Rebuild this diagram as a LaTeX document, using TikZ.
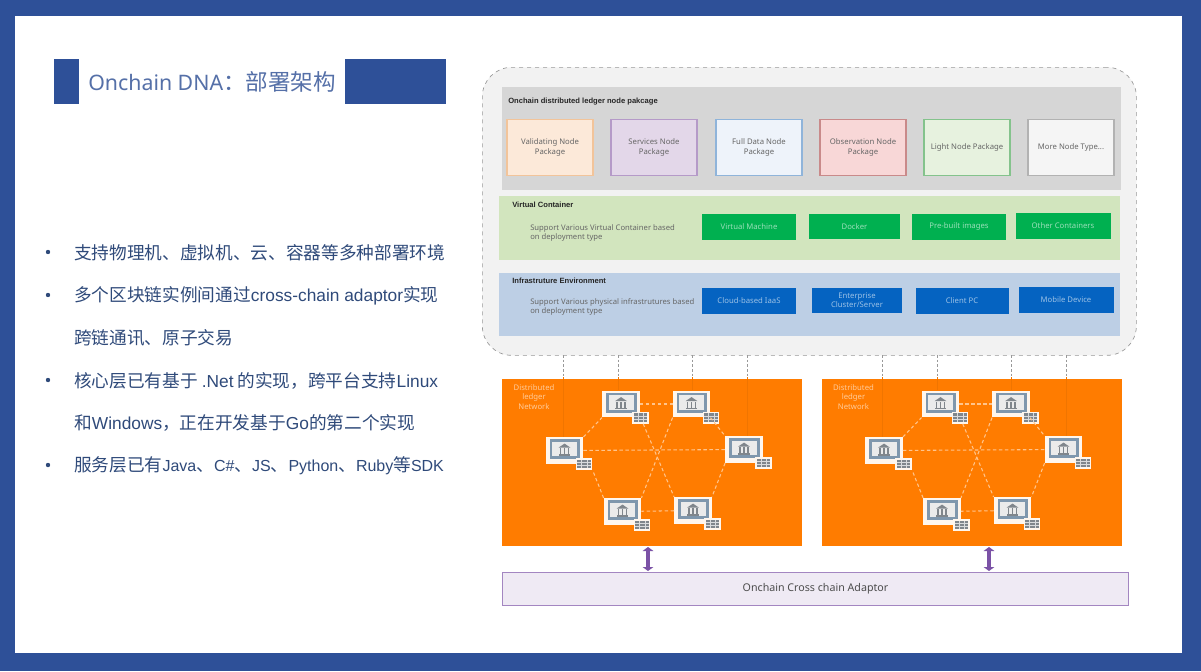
\documentclass[tikz,border=0pt]{standalone}
\usepackage{fontspec}
\setmainfont{Noto Sans}
\newfontfamily\cjkfont{Noto Sans CJK SC}
\newfontfamily\latinfont{Liberation Sans}
\usetikzlibrary{arrows.meta}

\definecolor{frameblue}{HTML}{2E5098}
\definecolor{titleblue}{HTML}{5570A8}
\definecolor{bodyblue}{HTML}{2F4A7A}
\definecolor{netorange}{HTML}{FF7C00}
\definecolor{ctgreen}{HTML}{00B050}
\definecolor{infblue}{HTML}{0563C1}
\definecolor{arrowpurple}{HTML}{7B52A6}
\definecolor{bandgreen}{HTML}{D2E5BE}
\definecolor{bandblue}{HTML}{BDCFE5}
\definecolor{screenedge}{HTML}{7F97AD}
\definecolor{iconcolor}{HTML}{80868C}
\definecolor{validatingfill}{HTML}{FCE9D9}
\definecolor{validatingedge}{HTML}{F2C49A}
\definecolor{servicesfill}{HTML}{E3D7E9}
\definecolor{servicesedge}{HTML}{B59AC8}
\definecolor{fulldatafill}{HTML}{EEF3FA}
\definecolor{fulldataedge}{HTML}{8FB4DA}
\definecolor{observationfill}{HTML}{F8D7D7}
\definecolor{observationedge}{HTML}{C98A8A}
\definecolor{lightfill}{HTML}{E7F2DF}
\definecolor{lightedge}{HTML}{84C38C}

\tikzset{
    heading/.style={anchor=west, inner sep=0pt, font=\latinfont\fontsize{5.7}{7}\selectfont\bfseries, text=black!85},
    remark/.style={anchor=west, inner sep=0pt, align=left, font=\fontsize{5.75}{7.4}\selectfont, text=black!60},
    package/.style={draw=#1edge, fill=#1fill, line width=.8pt, minimum width=64.5pt, minimum height=41.5pt, inner sep=0pt, align=center, font=\fontsize{5.8}{7}\selectfont, text=black!60},
    tile/.style={fill=#1, draw=none, minimum width=70.5pt, minimum height=19.5pt, inner sep=0pt, align=center, font=\fontsize{5.8}{6.8}\selectfont, text=white!60!#1},
    bullet/.style={anchor=west, inner sep=0pt, text=bodyblue, font=\cjkfont\fontsize{13.25}{16}\selectfont},
    laptop/.style={fill=white!93!orange, draw=none, minimum width=28pt, minimum height=20pt, inner sep=0pt},
    link/.style={draw=white!55!netorange, line width=.8pt, dash pattern=on 2.5pt off 2pt},
    drop/.style={draw=black!40, line width=.4pt, dash pattern=on 2pt off 1.5pt},
    faint/.style={draw=netorange!94!black, line width=.3pt}
}

% latin words inside the chinese bullets
\newcommand{\ltn}[2][13]{{\latinfont\fontsize{#1}{16}\selectfont #2}}

% one computer of the ledger network with its small database
\newcommand{\ledgernode}[3]{
    \node[laptop] (#1) at (#2,#3) {};
    \fill[screenedge] ([xshift=3pt,yshift=-1.7pt]#1.north west) rectangle ([xshift=-2.5pt,yshift=3.7pt]#1.south east);
    \fill[black!8] ([xshift=5pt,yshift=-3.5pt]#1.north west) rectangle ([xshift=-4.5pt,yshift=5.8pt]#1.south east);
    \fill[iconcolor] ([xshift=-4.4pt,yshift=2.2pt]#1.center) -- ++(8.8pt,0) -- ++(-4.4pt,3pt) -- cycle;
    \foreach \barx in {-3,0,3}
        \fill[iconcolor] ([xshift=\barx pt-.7pt,yshift=1.8pt]#1.center) rectangle ++(1.4pt,-4.6pt);
    \fill[iconcolor] ([xshift=-4.4pt,yshift=-2.8pt]#1.center) rectangle ++(8.8pt,-1pt);
    \node[fill=white!93!orange, minimum width=12.5pt, minimum height=9pt, inner sep=0pt] (#1db) at ([xshift=.5pt]#1.south east) {};
    \fill[iconcolor] ([xshift=-5pt,yshift=-3.2pt]#1db.center) rectangle ([xshift=5pt,yshift=3.2pt]#1db.center);
    \foreach \rowy in {-1.1,1.1}
        \fill[white!70!iconcolor] ([xshift=-5pt,yshift=\rowy pt-.2pt]#1db.center) rectangle ++(10pt,.4pt);
    \foreach \colx in {-2,2}
        \fill[white!70!iconcolor] ([xshift=\colx pt-.2pt,yshift=-3.2pt]#1db.center) rectangle ++(.4pt,6.4pt);
}

\begin{document}
\begin{tikzpicture}[x=.75pt,y=-.75pt]
    \useasboundingbox (0,0) rectangle (1201,671);

    % frame and title
    \fill[frameblue] (0,0) rectangle (1201,671);
    \fill[white] (15,16) rectangle (1182,653);
    \fill[frameblue] (54,59) rectangle (79,104);
    \fill[frameblue] (345,59) rectangle (446,104);
    \node[anchor=west, inner sep=0pt, text=titleblue, font=\fontsize{16}{20}\selectfont] (title) at (88,81.5) {Onchain DNA{\cjkfont\fontsize{16.9}{20}\selectfont ：部署架构}};

    % bullets
    \foreach \name/\ypos/\txt in {
        bulletA/253/{支持物理机、虚拟机、云、容器等多种部署环境},
        bulletB/296/{多个区块链实例间通过\ltn{cross-chain adaptor}实现},
        bulletC/338/{跨链通讯、原子交易},
        bulletD/381/{核心层已有基于 \ltn{.Net} 的实现，跨平台支持\ltn{Linux}},
        bulletE/423/{和\ltn{Windows}，正在开发基于\ltn{Go}的第二个实现},
        bulletF/466/{服务层已有\ltn[12]{Java}、\ltn[12]{C\#}、\ltn[12]{JS}、\ltn[12]{Python}、\ltn[12]{Ruby}等\ltn[12]{SDK}}
    }
        \node[bullet] (\name) at (74,\ypos) {\txt};
    \foreach \ypos in {252,295,380,465}
        \fill[bodyblue] (48,\ypos) circle (2.2);

    % outer dashed box
    \node[draw=black!40, dashed, fill=black!5, rounded corners=22pt, line width=.5pt, minimum width=490.5pt, minimum height=216pt, inner sep=0pt, anchor=north west] (outer) at (482,67) {};

    % bands
    \fill[black!16] (502,87) rectangle (1121,190);
    \fill[bandgreen] (499,196) rectangle (1120,260);
    \fill[bandblue] (499,273) rectangle (1120,336);

    \node[heading] (pkghead) at (508,102) {Onchain distributed ledger node pakcage};
    \node[heading] (cthead) at (512,205) {Virtual Container};
    \node[heading] (infhead) at (512,281) {Infrastruture Environment};
    \node[remark] (ctnote) at (530,233) {Support Various Virtual Container based\\on deployment type};
    \node[remark] (infnote) at (530,307) {Support Various physical infrastrutures based\\on deployment type};

    % packages
    \node[package=validating] (validating) at (550,147.5) {Validating Node\\Package};
    \node[package=services] (services) at (654,147.5) {Services Node\\Package};
    \node[package=fulldata] (fulldata) at (759,147.5) {Full Data Node\\Package};
    \node[package=observation] (observation) at (863,147.5) {Observation Node\\Package};
    \node[package=light] (light) at (967,147.5) {Light Node Package};
    \node[draw=black!30, fill=black!4, line width=.8pt, minimum width=64.5pt, minimum height=41.5pt, inner sep=0pt, font=\fontsize{5.8}{7}\selectfont, text=black!60] (more) at (1071,147.5) {More Node Type...};

    % container tiles
    \node[tile=ctgreen] (vm) at (749,226.5) {Virtual Machine};
    \node[tile=ctgreen, minimum width=68.25pt, minimum height=18.75pt] (docker) at (854.5,226.5) {Docker};
    \node[tile=ctgreen] (prebuilt) at (959,226.5) {Pre-built images};
    \node[tile=ctgreen, minimum width=71.25pt] (othercont) at (1063,226) {Other Containers};

    % infrastructure tiles
    \node[tile=infblue] (iaas) at (749,301) {Cloud-based IaaS};
    \node[tile=infblue, minimum width=67.5pt, minimum height=18.75pt] (enterprise) at (857,300.5) {Enterprise\\Cluster/Server};
    \node[tile=infblue, minimum width=69.75pt] (clientpc) at (962,300.5) {Client PC};
    \node[tile=infblue, minimum width=71.25pt] (mobile) at (1066,300) {Mobile Device};

    % adaptor
    \node[draw=arrowpurple!70, fill=arrowpurple!12, line width=.6pt, minimum width=469.5pt, minimum height=24.75pt, inner sep=0pt, text=black!70, font=\fontsize{8}{10}\selectfont] (adaptor) at (815.5,588.5) {Onchain Cross chain Adaptor};

    % the two ledger networks
    \foreach \net/\off/\arrowx in {a/0/648,b/319.5/989} {
        \fill[netorange] (502+\off,379) rectangle (802+\off,546);
        \node[align=center, inner sep=0pt, text=white!60!netorange, font=\fontsize{5.8}{7.4}\selectfont] (\net label) at (534+\off,397) {Distributed\\ledger\\Network};
        \foreach \drop/\dropx in {p/563,q/618,r/692,s/747} {
            \coordinate (\net\drop) at (\dropx+\off,355);
            \coordinate (\net\drop end) at (\dropx+\off,377);
            \draw[drop] (\net\drop) -- (\net\drop end);
        }
        \ledgernode{\net left}{564.5+\off}{450.5}
        \ledgernode{\net topl}{621+\off}{404}
        \ledgernode{\net topr}{691.5+\off}{404}
        \ledgernode{\net right}{744+\off}{449.5}
        \ledgernode{\net botl}{622.5+\off}{511.5}
        \ledgernode{\net botr}{693+\off}{510.5}
        \draw[faint] (\net pend) -- (\net pend |- \net left.north);
        \draw[faint] (\net qend) -- (\net qend |- \net topl.north);
        \draw[faint] (\net rend) -- (\net rend |- \net topr.north);
        \draw[faint] (\net send) -- (\net send |- \net right.north);
        \draw[link] (\net left.north east) -- (\net topl.south west);
        \draw[link] (\net topl) -- (\net topr);
        \draw[link] (\net topr.south east) -- (\net right.north west);
        \draw[link] (\net right.south west) -- (\net botr.north east);
        \draw[link] (\net botr) -- (\net botl);
        \draw[link] (\net botl.north west) -- (\net leftdb.south east);
        \draw[link] (\net left) -- (\net right);
        \draw[link] (\net topldb) -- (\net botr.north west);
        \draw[link] (\net topr.south west) -- (\net botl.north east);
        \coordinate (\net up) at (\arrowx,547);
        \coordinate (\net down) at (\arrowx,571);
        \draw[{Triangle[width=8pt,length=3pt]}-{Triangle[width=8pt,length=3pt]}, line width=3.4pt, arrowpurple] (\net up) -- (\net down);
    }
\end{tikzpicture}
\end{document}
